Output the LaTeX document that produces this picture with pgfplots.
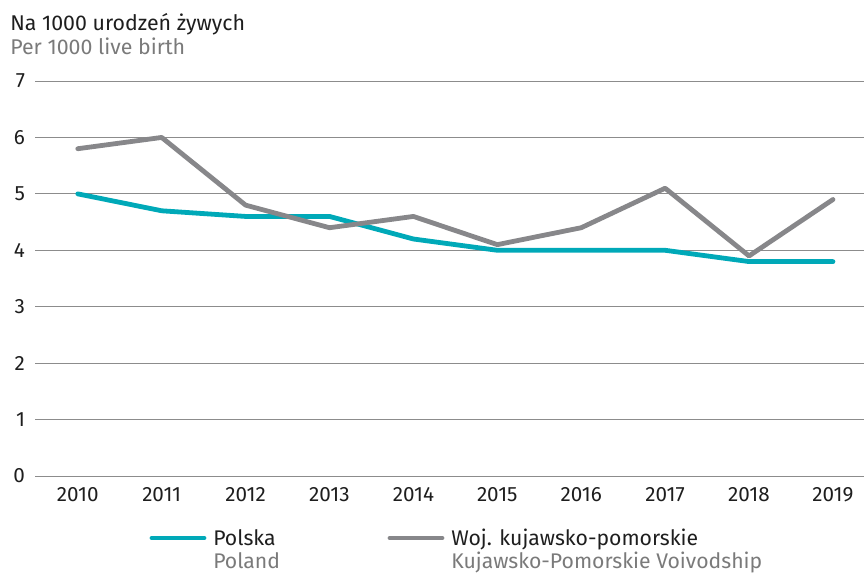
\documentclass[border=0pt]{standalone}
\usepackage{fontspec}
\setmainfont{Fira Sans}
\usepackage{pgfplots}
\pgfplotsset{compat=1.18}
\definecolor{teal1}{HTML}{00A9B8}
\definecolor{grey1}{HTML}{87878A}
\definecolor{gridc}{HTML}{8C8C8C}
\definecolor{txt}{HTML}{1E1E1E}
\definecolor{subtxt}{HTML}{7A7A7A}
\begin{document}
\begin{tikzpicture}[x=0.75pt,y=-0.75pt]
\path[use as bounding box] (0,0) rectangle (864,573);
\begin{axis}[
  at={(35*0.75pt,-476*0.75pt)}, anchor=south west,
  scale only axis, width=621.75pt, height=296.25pt,
  xmin=2009.49, xmax=2019.37, ymin=0, ymax=7,
  axis line style={draw=none}, major tick length=0pt,
  xtick={2010,...,2019}, ytick={0,...,7},
  ymajorgrids, grid style={gridc, line width=0.75pt},
  tick label style={font=\fontsize{15.5}{18}\selectfont, text=txt},
  /pgf/number format/assume math mode=true,
  xticklabel={\pgfmathprintnumber[1000 sep={}]{\tick}},
  x tick label style={yshift=-5pt},
  y tick label style={xshift=-4pt},
  clip=false,
]
\addplot[teal1, line width=3.6pt, line cap=round, line join=round] coordinates {
(2010,5.0) (2011,4.7) (2012,4.6) (2013,4.6) (2014,4.2) (2015,4.0) (2016,4.0) (2017,4.0) (2018,3.8) (2019,3.8)};
\addplot[grey1, line width=3.6pt, line cap=round, line join=round] coordinates {
(2010,5.8) (2011,6.0) (2012,4.8) (2013,4.4) (2014,4.6) (2015,4.1) (2016,4.4) (2017,5.1) (2018,3.9) (2019,4.9)};
\end{axis}
\node[anchor=base west, inner sep=0, text=txt, font=\fontsize{16}{19}\selectfont] at (10,31) {Na 1000 urodzeń żywych};
\node[anchor=base west, inner sep=0, text=subtxt, font=\fontsize{16}{19}\selectfont] at (10,55) {Per 1000 live birth};
\draw[teal1, line width=3.6pt, line cap=round] (152,538) -- (204,538);
\node[anchor=base west, inner sep=0, text=txt, font=\fontsize{15.9}{19}\selectfont] at (213,545) {Polska};
\node[anchor=base west, inner sep=0, text=subtxt, font=\fontsize{15.9}{19}\selectfont] at (213,568) {Poland};
\draw[grey1, line width=3.6pt, line cap=round] (390,538) -- (442,538);
\node[anchor=base west, inner sep=0, text=txt, font=\fontsize{15.9}{19}\selectfont] at (451,545) {Woj. kujawsko-pomorskie};
\node[anchor=base west, inner sep=0, text=subtxt, font=\fontsize{15.9}{19}\selectfont] at (451,568) {Kujawsko-Pomorskie Voivodship};
\end{tikzpicture}
\end{document}
